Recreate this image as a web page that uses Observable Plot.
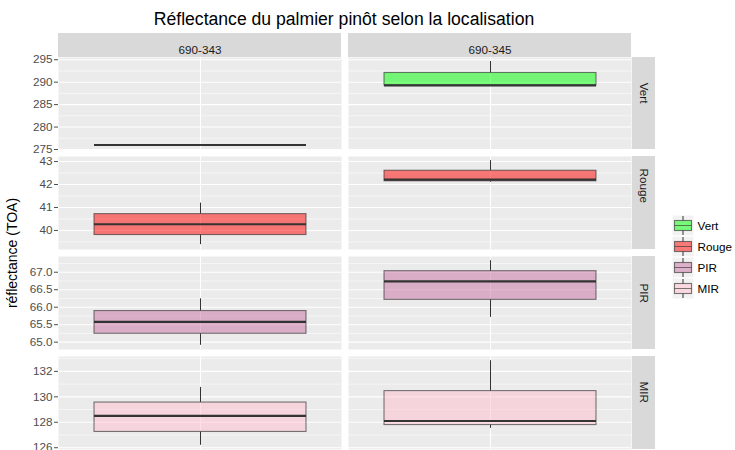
<!DOCTYPE html>
<html><head><meta charset="utf-8">
<script src="https://cdn.jsdelivr.net/npm/d3@7"></script>
<script src="https://cdn.jsdelivr.net/npm/@observablehq/plot@0.6"></script>
<style>
body{margin:0;background:#fff;font-family:"Liberation Sans",Arial,sans-serif;}
#chart{position:relative;width:735px;height:450px;overflow:hidden;background:#fff;}
.abs{position:absolute;}
#title{left:0;width:688px;top:11px;text-align:center;font-size:17.6px;line-height:17.6px;color:#000;white-space:nowrap;}
#ylab{left:12px;top:253px;transform:translate(-50%,-50%) rotate(-90deg);font-size:14px;line-height:14px;color:#000;white-space:nowrap;}
</style></head><body><div id="chart"><div id="title" class="abs">Réflectance du palmier pinôt selon la localisation</div><div id="ylab" class="abs">réflectance (TOA)</div></div>
<script>
// ---- data ----
const locations = ["690-343", "690-345"];
const bands = ["Vert", "Rouge", "PIR", "MIR"];
const bandColors = ["#00FF00", "#FF0000", "#C8709F", "#FFC0CB"];

// box summaries (band x location)
const boxBand = ["Vert", "Vert", "Rouge", "Rouge", "PIR", "PIR", "MIR", "MIR"];
const boxLoc = ["690-343", "690-345", "690-343", "690-345", "690-343", "690-345", "690-343", "690-345"];
const whiskerLow  = [276.0, 289.25, 39.38, 42.10, 64.91, 65.71, 126.19, 127.52];
const quartile1   = [276.0, 289.25, 39.80, 42.14, 65.24, 66.21, 127.24, 127.78];
const medianVal   = [276.0, 289.30, 40.27, 42.21, 65.58, 66.74, 128.50, 128.10];
const quartile3   = [276.0, 292.05, 40.71, 42.60, 65.89, 67.03, 129.55, 130.45];
const whiskerHigh = [276.0, 294.60, 41.19, 43.04, 66.24, 67.33, 130.74, 132.84];

// y ticks per row
const vertTicks  = [275, 280, 285, 290, 295];
const rougeTicks = [40, 41, 42, 43];
const pirTicks   = [65.0, 65.5, 66.0, 66.5, 67.0];
const mirTicks   = [126, 128, 130, 132];
const vertMinor  = [277.5, 282.5, 287.5, 292.5];
const rougeMinor = [39.5, 40.5, 41.5, 42.5];
const pirMinor   = [65.25, 65.75, 66.25, 66.75, 67.25];
const mirMinor   = [127, 129, 131, 133];
// y limits per row (free y scales)
const vertDomain  = [275.0, 295.5];
const rougeDomain = [39.17, 43.22];
const pirDomain   = [64.79, 67.45];
const mirDomain   = [125.86, 133.17];

const boxes = boxBand.map((band, i) => ({
  band, loc: boxLoc[i], lo: whiskerLow[i], q1: quartile1[i], med: medianVal[i], q3: quartile3[i], hi: whiskerHigh[i]
}));

const rowTicks = [vertTicks, rougeTicks, pirTicks, mirTicks];
const rowMinor = [vertMinor, rougeMinor, pirMinor, mirMinor];
const rowDomain = [vertDomain, rougeDomain, pirDomain, mirDomain];
const rowFormat = [d3.format("d"), d3.format("d"), d3.format(".1f"), d3.format("d")];

// ---- layout ----
const chart = document.getElementById("chart");
const rowTop = [57, 156, 256, 356];
const rowH = [92, 93, 93, 93];
const panelW = 283, gap = 7, stripW = 23;
const fontSize = 11.7;
const sty = {background: "transparent", overflow: "visible", fontFamily: "'Liberation Sans', Arial, sans-serif"};

bands.forEach((band, r) => {
  const rowData = boxes.filter(d => d.band === band);
  const rightData = rowData.filter(d => d.loc === locations[1]);
  const mt = r === 0 ? 24 : 8;
  const mb = r === 3 ? 1 : 8;
  const marks = [
    Plot.frame({fill: "#EBEBEB", stroke: "none"}),
    Plot.ruleY(rowMinor[r], {stroke: "white", strokeWidth: 0.55}),
    Plot.ruleY(rowTicks[r], {stroke: "white", strokeWidth: 1.1}),
    Plot.ruleX(rowData, {fx: "loc", x: "band", stroke: "white", strokeWidth: 1.1}),
    Plot.ruleX(rowData, {fx: "loc", x: "band", y1: "lo", y2: "q1", stroke: "#333", strokeWidth: 1}),
    Plot.ruleX(rowData, {fx: "loc", x: "band", y1: "q3", y2: "hi", stroke: "#333", strokeWidth: 1}),
    Plot.barY(rowData, {fx: "loc", x: "band", y1: "q1", y2: "q3", fill: "band", fillOpacity: 0.5,
      stroke: "#333", strokeOpacity: 0.65, strokeWidth: 1.1}),
    Plot.tickY(rowData, {fx: "loc", x: "band", y: "med", stroke: "#333", strokeWidth: 2.2}),
    Plot.axisY(rowTicks[r], {tickSize: 4, tickPadding: 2, fontSize, color: "#4D4D4D",
      tickFormat: rowFormat[r], label: null}),
    // right strip (row label)
    Plot.rect(rightData, {fx: "loc", fill: "#D9D9D9", insetLeft: panelW + 1, insetRight: -(1 + stripW)}),
    Plot.text(rightData, {fx: "loc", text: "band", frameAnchor: "right", dx: 12.5, rotate: 90,
      fontSize, fill: "#1A1A1A"})
  ];
  if (r === 0) {
    marks.push(
      Plot.rect(rowData, {fx: "loc", fill: "#D9D9D9", insetTop: -24, insetBottom: rowH[0]}),
      Plot.text(rowData, {fx: "loc", text: "loc", frameAnchor: "top", dy: -12, fontSize, fill: "#1A1A1A"})
    );
  }
  const p = Plot.plot({
    width: 735,
    height: mt + rowH[r] + mb,
    marginTop: mt, marginBottom: mb, marginLeft: 58, marginRight: 104,
    style: sty,
    fx: {domain: locations, paddingInner: gap / (panelW + gap), paddingOuter: 0, axis: null, label: null},
    x: {domain: [band], padding: 1 / 7, axis: null},
    y: {domain: rowDomain[r], label: null},
    color: {domain: bands, range: bandColors},
    marks
  });
  p.classList.add("abs");
  p.style.left = "0px";
  p.style.top = (rowTop[r] - mt) + "px";
  chart.appendChild(p);
});

// ---- legend ----
const keyX = () => "clé";
const legend = Plot.plot({
  width: 67, height: 86,
  marginTop: 0, marginBottom: 0, marginLeft: 0, marginRight: 45,
  style: sty,
  x: {domain: ["clé"], padding: 0, axis: null},
  y: {domain: bands, padding: 0, axis: null},
  color: {domain: bands, range: bandColors},
  marks: [
    Plot.cell(bands, {x: keyX, y: d => d, fill: "#F2F2F2", stroke: "white", strokeWidth: 1}),
    Plot.cell(bands, {x: keyX, y: d => d, fill: "#333", insetLeft: 10.5, insetRight: 10.5, insetTop: 1, insetBottom: 1}),
    Plot.cell(bands, {x: keyX, y: d => d, fill: "#F2F2F2", insetLeft: 2.5, insetRight: 2.5, insetTop: 5.5, insetBottom: 5.5}),
    Plot.cell(bands, {x: keyX, y: d => d, fill: d => d, fillOpacity: 0.5, stroke: "#333", strokeOpacity: 0.65, strokeWidth: 1.1,
      insetLeft: 2.5, insetRight: 2.5, insetTop: 5.5, insetBottom: 5.5}),
    Plot.cell(bands, {x: keyX, y: d => d, fill: "#333", fillOpacity: 0.8, insetLeft: 2.5, insetRight: 2.5, insetTop: 10.1, insetBottom: 10.1}),
    Plot.text(bands, {x: keyX, y: d => d, text: d => d, dx: 14, textAnchor: "start", fontSize, fill: "#000"})
  ]
});
legend.classList.add("abs");
legend.style.left = "672px";
legend.style.top = "213.75px";
chart.appendChild(legend);
</script></body></html>
